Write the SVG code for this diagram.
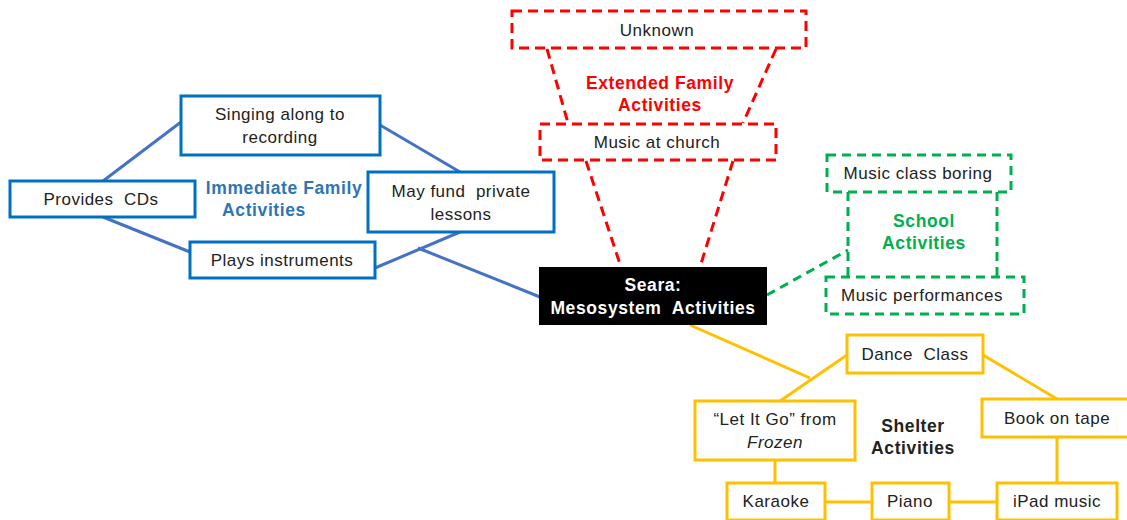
<svg xmlns="http://www.w3.org/2000/svg" width="1127" height="520" viewBox="0 0 1127 520">
<style>
text{font-family:"Liberation Sans",Arial,sans-serif;font-size:17px;letter-spacing:0.5px;fill:#222;text-anchor:middle}
.lbl{font-weight:bold;font-size:17.5px;letter-spacing:0.6px}
.blue rect{fill:#fff;stroke:#0070C0;stroke-width:3}
.red rect{fill:#fff;stroke:#FF0000;stroke-width:3;stroke-dasharray:10 6}
.green rect{fill:#fff;stroke:#00B050;stroke-width:3;stroke-dasharray:9 6}
.yel rect{fill:#fff;stroke:#FFC000;stroke-width:3}
.cb{stroke:#4472C4;stroke-width:3;fill:none}
.cr{stroke:#FF0000;stroke-width:3;fill:none;stroke-dasharray:10 6}
.cg{stroke:#00B050;stroke-width:3;fill:none;stroke-dasharray:9 6}
.cy{stroke:#FFC000;stroke-width:3;fill:none}
</style>
<rect width="1127" height="520" fill="#fff"/>
<g id="connectors">
<line class="cb" x1="103" y1="181" x2="181" y2="122"/>
<line class="cb" x1="380" y1="125" x2="460" y2="172"/>
<line class="cb" x1="103" y1="217" x2="190" y2="252"/>
<line class="cb" x1="375" y1="268" x2="460" y2="232"/>
<line class="cb" x1="418" y1="248" x2="540" y2="297"/>
<line class="cr" x1="547" y1="49" x2="568" y2="123"/>
<line class="cr" x1="776" y1="49" x2="743" y2="123"/>
<line class="cr" x1="586" y1="161" x2="621" y2="267"/>
<line class="cr" x1="733" y1="161" x2="700" y2="267"/>
<line class="cg" x1="767" y1="295" x2="848" y2="250"/>
<line class="cg" x1="848" y1="192" x2="848" y2="277"/>
<line class="cg" x1="997" y1="192" x2="997" y2="277"/>
<line class="cy" x1="690" y1="325" x2="810" y2="378"/>
<line class="cy" x1="847" y1="355" x2="780" y2="401"/>
<line class="cy" x1="983" y1="355" x2="1057" y2="399"/>
<line class="cy" x1="775" y1="460" x2="775" y2="483"/>
<line class="cy" x1="825" y1="502" x2="872" y2="502"/>
<line class="cy" x1="949" y1="502" x2="997" y2="502"/>
<line class="cy" x1="1057" y1="437" x2="1057" y2="483"/>
</g>
<g id="labels">
<text class="lbl" x="284" y="194" style="fill:#2E75B6">Immediate Family</text>
<text class="lbl" x="264" y="216" style="fill:#2E75B6">Activities</text>
<text class="lbl" x="660" y="89" style="fill:#FF0000">Extended Family</text>
<text class="lbl" x="660" y="111" style="fill:#FF0000">Activities</text>
<text class="lbl" x="924" y="227" style="fill:#00B050">School</text>
<text class="lbl" x="924" y="249" style="fill:#00B050">Activities</text>
<text class="lbl" x="913" y="432" style="fill:#222">Shelter</text>
<text class="lbl" x="913" y="454" style="fill:#222">Activities</text>
</g>
<g id="n-singing" class="blue"><rect x="181" y="96" width="199" height="59"/><text x="280" y="120">Singing along to</text><text x="280" y="143">recording</text></g>
<g id="n-cds" class="blue"><rect x="10" y="181" width="185" height="36"/><text x="101" y="205">Provides&#160; CDs</text></g>
<g id="n-fund" class="blue"><rect x="368" y="172" width="186" height="60"/><text x="461" y="197">May fund&#160; private</text><text x="461" y="220">lessons</text></g>
<g id="n-plays" class="blue"><rect x="190" y="242" width="185" height="36"/><text x="282" y="266">Plays instruments</text></g>
<g id="n-unknown" class="red"><rect x="512" y="11" width="294" height="37"/><text x="657" y="36">Unknown</text></g>
<g id="n-church" class="red"><rect x="540" y="124" width="236" height="36"/><text x="657" y="148">Music at church</text></g>
<g id="n-seara"><rect x="539" y="267" width="228" height="58" fill="#000"/><text class="lbl" x="653" y="291" style="fill:#fff">Seara:</text><text class="lbl" x="653" y="314" style="fill:#fff">Mesosystem&#160; Activities</text></g>
<g id="n-boring" class="green"><rect x="827" y="155" width="184" height="37"/><text x="918" y="179">Music class boring</text></g>
<g id="n-perf" class="green"><rect x="826" y="277" width="198" height="37"/><text x="922" y="301">Music performances</text></g>
<g id="n-dance" class="yel"><rect x="847" y="335" width="136" height="38"/><text x="915" y="360">Dance&#160; Class</text></g>
<g id="n-letitgo" class="yel"><rect x="695" y="401" width="160" height="59"/><text x="775" y="425">“Let It Go” from</text><text x="775" y="448" style="font-style:italic">Frozen</text></g>
<g id="n-book" class="yel"><rect x="982" y="399" width="147" height="38"/><text x="1057" y="424">Book on tape</text></g>
<g id="n-karaoke" class="yel"><rect x="727" y="483" width="98" height="37"/><text x="776" y="507">Karaoke</text></g>
<g id="n-piano" class="yel"><rect x="872" y="483" width="77" height="37"/><text x="910" y="507">Piano</text></g>
<g id="n-ipad" class="yel"><rect x="997" y="483" width="120" height="37"/><text x="1057" y="507">iPad music</text></g>
</svg>
